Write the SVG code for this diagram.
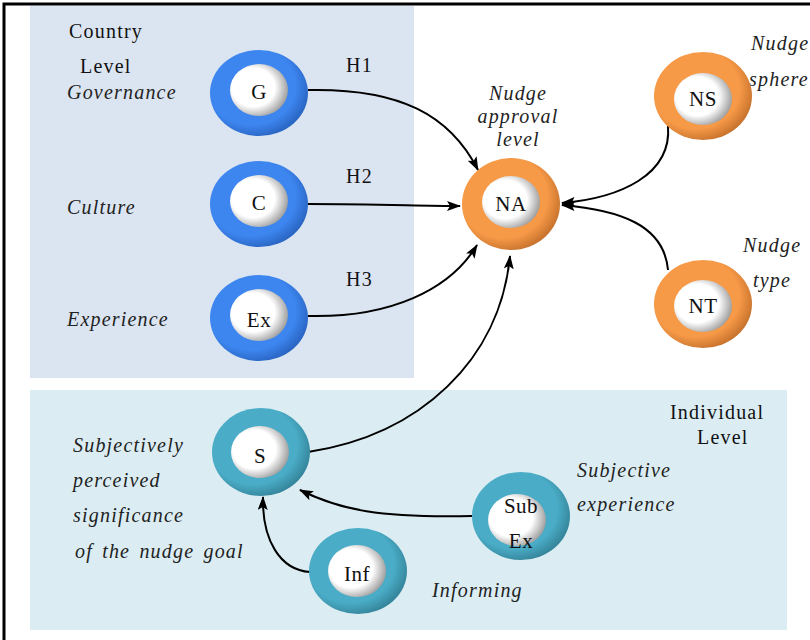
<svg xmlns="http://www.w3.org/2000/svg" width="810" height="640" viewBox="0 0 810 640">
<defs>
<radialGradient id="gBlue" cx="0.42" cy="0.42" r="0.6">
<stop offset="0.75" stop-color="#3d86f0"/><stop offset="1" stop-color="#2a66c4"/>
</radialGradient>
<radialGradient id="gOrange" cx="0.42" cy="0.42" r="0.6">
<stop offset="0.75" stop-color="#f79a48"/><stop offset="1" stop-color="#c9742e"/>
</radialGradient>
<radialGradient id="gTeal" cx="0.42" cy="0.42" r="0.6">
<stop offset="0.75" stop-color="#4aacc6"/><stop offset="1" stop-color="#35869c"/>
</radialGradient>
<radialGradient id="gInner" cx="0.4" cy="0.45" r="0.62">
<stop offset="0.6" stop-color="#ffffff"/><stop offset="1" stop-color="#9a9a9a"/>
</radialGradient>
<marker id="arr" viewBox="0 0 14 10" refX="13" refY="5" markerWidth="14" markerHeight="10" markerUnits="userSpaceOnUse" orient="auto">
<path d="M0,0 L14,5 L0,10 L3,5 Z" fill="#000"/>
</marker>
</defs>
<style>
.t{font-family:"Liberation Serif","Times New Roman",serif;font-size:20px;fill:#111;letter-spacing:1.2px}
.i{font-style:italic;fill:#222}
.n{font-family:"Liberation Serif","Times New Roman",serif;font-size:21px;fill:#111;text-anchor:middle;letter-spacing:0.5px}
.c{fill:none;stroke:#000;stroke-width:2;marker-end:url(#arr)}
.in{fill:url(#gInner)}
</style>
<rect x="0" y="0" width="810" height="640" fill="#fff"/>
<path d="M4,640 V4 H810" fill="none" stroke="#000" stroke-width="3"/>
<rect x="30" y="6" width="384" height="372" fill="#dbe5f1"/>
<rect x="30" y="390" width="757" height="240" fill="#dbedf3"/>

<g id="connectors">
<path class="c" d="M308,90 C400,88 450,115 478,170"/>
<path class="c" d="M308,204 C380,204 420,206 460,206"/>
<path class="c" d="M308,316 C390,318 450,290 477,245"/>
<path class="c" d="M308,452 C420,435 500,360 510,256"/>
<path class="c" d="M668,126 C672,175 620,198 562,203"/>
<path class="c" d="M668,270 C664,225 620,210 562,205"/>
<path class="c" d="M472,516 C380,518 340,510 300,490"/>
<path class="c" d="M310,572 C280,570 262,540 263,497"/>
</g>

<g id="labels">
<text class="t" x="69" y="38">Country</text>
<text class="t" x="80" y="73">Level</text>
<text class="t i" x="67" y="99">Governance</text>
<text class="t i" x="67" y="214">Culture</text>
<text class="t i" x="67" y="326">Experience</text>
<text class="t" x="346" y="72">H1</text>
<text class="t" x="346" y="183">H2</text>
<text class="t" x="346" y="286">H3</text>
<text class="t i" x="518" y="100" text-anchor="middle">Nudge</text>
<text class="t i" x="518" y="123" text-anchor="middle">approval</text>
<text class="t i" x="518" y="146" text-anchor="middle">level</text>
<text class="t i" x="751" y="50">Nudge</text>
<text class="t i" x="749" y="86">sphere</text>
<text class="t i" x="743" y="252">Nudge</text>
<text class="t i" x="753" y="287">type</text>
<text class="t" x="670" y="419">Individual</text>
<text class="t" x="697" y="444">Level</text>
<text class="t i" x="73" y="452" letter-spacing="2">Subjectively</text>
<text class="t i" x="73" y="487" letter-spacing="2">perceived</text>
<text class="t i" x="73" y="522" letter-spacing="2">significance</text>
<text class="t i" x="75" y="558" letter-spacing="1.8" word-spacing="3">of the nudge goal</text>
<text class="t i" x="577" y="477" letter-spacing="1.8">Subjective</text>
<text class="t i" x="577" y="511" letter-spacing="1.8">experience</text>
<text class="t i" x="432" y="597">Informing</text>
</g>

<g id="node-G">
<ellipse cx="259" cy="93" rx="49" ry="43" fill="url(#gBlue)"/>
<ellipse class="in" cx="259" cy="90" rx="29" ry="26"/>
<text class="n" x="259" y="99">G</text>
</g>
<g id="node-C">
<ellipse cx="259" cy="204" rx="49" ry="43" fill="url(#gBlue)"/>
<ellipse class="in" cx="259" cy="201" rx="29" ry="26"/>
<text class="n" x="259" y="210">C</text>
</g>
<g id="node-Ex">
<ellipse cx="259" cy="318" rx="49" ry="43" fill="url(#gBlue)"/>
<ellipse class="in" cx="259" cy="315" rx="29" ry="26"/>
<text class="n" x="259" y="327">Ex</text>
</g>
<g id="node-NA">
<ellipse cx="511" cy="204" rx="49" ry="46" fill="url(#gOrange)"/>
<ellipse class="in" cx="511" cy="202" rx="29" ry="26"/>
<text class="n" x="511" y="211" letter-spacing="3">NA</text>
</g>
<g id="node-NS">
<ellipse cx="703" cy="96" rx="49" ry="44" fill="url(#gOrange)"/>
<ellipse class="in" cx="703" cy="99" rx="29" ry="26"/>
<text class="n" x="703" y="106">NS</text>
</g>
<g id="node-NT">
<ellipse cx="703" cy="304" rx="49" ry="44" fill="url(#gOrange)"/>
<ellipse class="in" cx="703" cy="306" rx="29" ry="26"/>
<text class="n" x="703" y="313">NT</text>
</g>
<g id="node-S">
<ellipse cx="261" cy="452" rx="49" ry="44" fill="url(#gTeal)"/>
<ellipse class="in" cx="260" cy="452" rx="29" ry="26"/>
<text class="n" x="260" y="463">S</text>
</g>
<g id="node-SubEx">
<ellipse cx="521" cy="516" rx="49" ry="44" fill="url(#gTeal)"/>
<ellipse class="in" cx="517" cy="520" rx="29" ry="26"/>
<text class="n" x="521" y="513">Sub</text>
<text class="n" x="521" y="548">Ex</text>
</g>
<g id="node-Inf">
<ellipse cx="358" cy="571" rx="49" ry="43" fill="url(#gTeal)"/>
<ellipse class="in" cx="357" cy="571" rx="29" ry="26"/>
<text class="n" x="357" y="581">Inf</text>
</g>
</svg>
